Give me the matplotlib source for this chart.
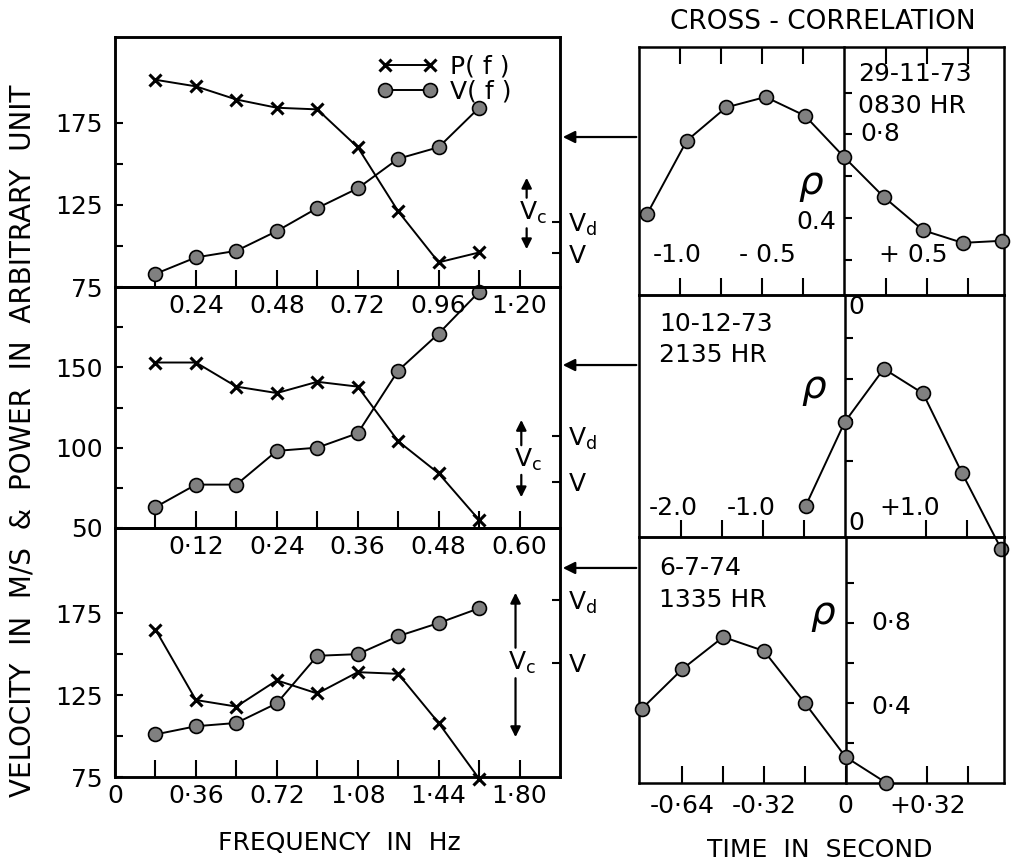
import matplotlib.pyplot as plt

# left side: V(f) and P(f) for the three days
freq_top = [0.12, 0.24, 0.36, 0.48, 0.60, 0.72, 0.84, 0.96, 1.08]
vel_top = [83, 93, 97, 109, 123, 135, 153, 160, 184]
pow_top = [201, 197, 189, 184, 183, 160, 121, 90, 96]

freq_mid = [0.06, 0.12, 0.18, 0.24, 0.30, 0.36, 0.42, 0.48, 0.54]
vel_mid = [63, 77, 77, 98, 100, 109, 148, 171, 197]
pow_mid = [153, 153, 138, 134, 141, 138, 104, 84, 55]

freq_bot = [0.18, 0.36, 0.54, 0.72, 0.90, 1.08, 1.26, 1.44, 1.62]
vel_bot = [101, 106, 108, 120, 149, 150, 161, 169, 178]
pow_bot = [165, 122, 118, 134, 126, 139, 138, 108, 74]

# right side: cross-correlation vs lag
lag_top = [-1.20, -0.96, -0.72, -0.48, -0.24, 0.0, 0.24, 0.48, 0.72, 0.96]
rho_top = [0.42, 0.77, 0.93, 0.98, 0.89, 0.69, 0.50, 0.34, 0.28, 0.29]

lag_mid = [-0.48, 0.0, 0.48, 0.96, 1.44, 1.92]
rho_mid = [-0.02, 0.39, 0.65, 0.53, 0.14, -0.23]

lag_bot = [-0.80, -0.64, -0.48, -0.32, -0.16, 0.0, 0.16]
rho_bot = [0.37, 0.57, 0.73, 0.66, 0.40, 0.13, 0.0]

dates = [('29-11-73', '0830 HR'), ('10-12-73', '2135 HR'), ('6-7-74', '1335 HR')]

plt.rcParams['font.family'] = ['DejaVu Sans']
FS = 18

fig = plt.figure(figsize=(10.16, 8.65), dpi=100)

ax1 = fig.add_axes([0.1132, 0.6682, 0.438, 0.289])
ax2 = fig.add_axes([0.1132, 0.3896, 0.438, 0.2786])
ax3 = fig.add_axes([0.1132, 0.1017, 0.438, 0.2879])

ax4 = fig.add_axes([0.629, 0.659, 0.359, 0.2867])
ax5 = fig.add_axes([0.629, 0.3792, 0.359, 0.2798])
ax6 = fig.add_axes([0.629, 0.0948, 0.359, 0.2844])


def freq_panel(ax, f, vel, pw, xlim, ylim, xt, xtl, yt, ytl, vc, vmarks):
    ax.plot(f, pw, color='k', lw=1.4, marker='x', ms=9, mew=2.2, label='P( f )', clip_on=False)
    ax.plot(f, vel, color='k', lw=1.4, marker='o', ms=10, mfc='0.5', mec='k', mew=1.2,
            label='V( f )', clip_on=False)
    ax.set_xlim(xlim)
    ax.set_ylim(ylim)
    ax.set_xticks(xt)
    ax.set_xticklabels(xtl, fontsize=FS)
    ax.set_yticks(yt)
    ax.set_yticklabels(ytl, fontsize=FS)
    ax.tick_params(axis='x', direction='in', length=12, width=1.5, pad=5)
    ax.tick_params(axis='y', direction='in', length=6, width=1.5, pad=9)
    for s in ax.spines.values():
        s.set_linewidth(1.8)
    # V_c double arrow
    x, lo, mid, hi = vc
    ax.text(x + 0.015, mid, '$\\mathrm{V_c}$', transform=ax.transAxes, fontsize=FS,
            ha='center', va='center')
    ax.annotate('', xy=(x, hi), xytext=(x, mid + 0.05), xycoords='axes fraction',
                arrowprops=dict(arrowstyle='-|>', lw=1.6, color='k', mutation_scale=15))
    ax.annotate('', xy=(x, lo), xytext=(x, mid - 0.05), xycoords='axes fraction',
                arrowprops=dict(arrowstyle='-|>', lw=1.6, color='k', mutation_scale=15))
    # V_d and V marks on right border
    tw = ax.twinx()
    tw.set_ylim(0, 1)
    tw.set_yticks(vmarks)
    tw.set_yticklabels(['$\\mathrm{V_d}$', '$\\mathrm{V}$'], fontsize=FS)
    tw.tick_params(axis='y', direction='in', length=6, width=1.5, pad=6)
    for s in tw.spines.values():
        s.set_linewidth(1.8)


freq_panel(ax1, freq_top, vel_top, pow_top, (0, 1.32), (75, 227),
           [0.12, 0.24, 0.36, 0.48, 0.60, 0.72, 0.84, 0.96, 1.08, 1.20],
           ['', '0.24', '', '0.48', '', '0.72', '', '0.96', '', '1·20'],
           [75, 100, 125, 150, 175], ['75', '', '125', '', '175'],
           (0.925, 0.14, 0.296, 0.448), [0.26, 0.136])
freq_panel(ax2, freq_mid, vel_mid, pow_mid, (0, 0.66), (50, 200),
           [0.06, 0.12, 0.18, 0.24, 0.30, 0.36, 0.42, 0.48, 0.54, 0.60],
           ['', '0·12', '', '0·24', '', '0.36', '', '0.48', '', '0.60'],
           [50, 75, 100, 125, 150, 175], ['50', '', '100', '', '150', ''],
           (0.913, 0.116, 0.282, 0.46), [0.382, 0.191])
freq_panel(ax3, freq_bot, vel_bot, pow_bot, (0, 1.98), (75, 227),
           [0, 0.18, 0.36, 0.54, 0.72, 0.90, 1.08, 1.26, 1.44, 1.62, 1.80],
           ['0', '', '0·36', '', '0.72', '', '1·08', '', '1·44', '', '1·80'],
           [75, 100, 125, 150, 175], ['75', '', '125', '', '175'],
           (0.90, 0.149, 0.458, 0.751), [0.711, 0.458])

leg = ax1.legend(loc='upper left', bbox_to_anchor=(0.54, 1.02), numpoints=2, frameon=False,
                 fontsize=FS, handlelength=2.4, handletextpad=0.5, labelspacing=0.05)


def corr_panel(ax, lag, rho, xlim, ylim, xt, yt):
    ax.plot(lag, rho, color='k', lw=1.4, marker='o', ms=10, mfc='0.5', mec='k', mew=1.2,
            clip_on=False, zorder=5)
    ax.set_xlim(xlim)
    ax.set_ylim(ylim)
    ax.spines['left'].set_position(('data', 0))
    ax.axvline(xlim[0], color='k', lw=1.8, clip_on=False)
    for s in ax.spines.values():
        s.set_linewidth(1.8)
    ax.set_xticks(xt)
    ax.set_yticks(yt)
    ax.set_xticklabels([])
    ax.set_yticklabels([])
    ax.tick_params(axis='x', direction='in', length=12, width=1.5)
    ax.tick_params(axis='y', direction='in', length=6, width=1.5)


corr_panel(ax4, lag_top, rho_top, (-1.25, 0.97), (0.03, 1.22),
           [-1.0, -0.75, -0.5, -0.25, 0.25, 0.5, 0.75], [0.2, 0.4, 0.6, 0.8, 1.0])
ax4.tick_params(axis='x', top=True)
corr_panel(ax5, lag_mid, rho_mid, (-2.52, 1.95), (-0.17, 1.01),
           [-2.0, -1.5, -1.0, -0.5, 1.0, 1.5], [0.2, 0.4, 0.6, 0.8])
corr_panel(ax6, lag_bot, rho_bot, (-0.81, 0.62), (0, 1.23),
           [-0.64, -0.48, -0.32, -0.16, 0, 0.32, 0.48], [0.2, 0.4, 0.6, 0.8, 1.0])
ax6.set_xticks([-0.64, -0.32, 0, 0.32], minor=False)
ax6.set_xticks([-0.48, -0.16, 0.48], minor=True)
ax6.set_xticklabels(['-0·64', '-0·32', '0', '+0·32'], fontsize=FS)
ax6.tick_params(axis='x', which='both', direction='in', length=12, width=1.5, pad=8)

# text inside the correlation panels
ax4.text(0.1, 0.8, '0·8', fontsize=FS, va='center')
ax4.text(-0.05, 0.38, '0.4', fontsize=FS, va='center', ha='right')
ax4.text(-1.02, 0.22, '-1.0', fontsize=FS, ha='center', va='center')
ax4.text(-0.47, 0.22, '- 0.5', fontsize=FS, ha='center', va='center')
ax4.text(0.42, 0.22, '+ 0.5', fontsize=FS, ha='center', va='center')
ax4.text(-0.2, 0.56, '$\\rho$', fontsize=28, ha='center', va='center')

ax5.text(0.05, 0.95, '0', fontsize=FS, va='center')
ax5.text(-2.1, -0.03, '-2.0', fontsize=FS, ha='center', va='center')
ax5.text(-1.15, -0.03, '-1.0', fontsize=FS, ha='center', va='center')
ax5.text(0.8, -0.03, '+1.0', fontsize=FS, ha='center', va='center')
ax5.text(0.05, -0.10, '0', fontsize=FS, va='center')
ax5.text(-0.37, 0.55, '$\\rho$', fontsize=28, ha='center', va='center')

ax6.text(0.1, 0.8, '0·8', fontsize=FS, va='center')
ax6.text(0.1, 0.38, '0·4', fontsize=FS, va='center')
ax6.text(-0.09, 0.84, '$\\rho$', fontsize=28, ha='center', va='center')

for ax, (d, hr), pos in zip([ax4, ax5, ax6], dates, [(0.60, 0.89), (0.055, 0.88), (0.055, 0.874)]):
    ax.text(pos[0], pos[1], d, transform=ax.transAxes, fontsize=FS, va='center')
    ax.text(pos[0], pos[1] - 0.13, hr, transform=ax.transAxes, fontsize=FS, va='center')

for ax in fig.axes:
    ax.patch.set_visible(False)

# arrows linking the correlation plots to the spectra
for yf in [0.8416, 0.578, 0.3434]:
    ax1.annotate('', xy=(0.5512, yf), xytext=(0.629, yf), xycoords='figure fraction',
                 annotation_clip=False,
                 arrowprops=dict(arrowstyle='-|>', lw=1.6, color='k', mutation_scale=18))

fig.text(0.81, 0.975, 'CROSS - CORRELATION', fontsize=FS + 1, ha='center', va='center')
fig.text(0.334, 0.025, 'FREQUENCY  IN  Hz', fontsize=FS, ha='center', va='center')
fig.text(0.807, 0.017, 'TIME  IN  SECOND', fontsize=FS, ha='center', va='center')
fig.text(0.022, 0.49, 'VELOCITY  IN  M/S  &  POWER  IN  ARBITRARY  UNIT', fontsize=FS + 2,
         rotation=90, ha='center', va='center')

fig.savefig('out.png', dpi=100)
